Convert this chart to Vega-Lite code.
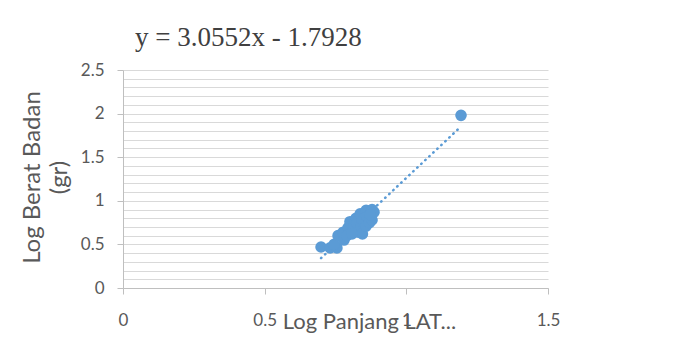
{
  "$schema": "https://vega.github.io/schema/vega-lite/v6.json",
  "autosize": "none",
  "width": 425,
  "height": 218,
  "padding": {"left": 123, "top": 70, "right": 131, "bottom": 55},
  "background": "white",
  "config": {"view": {"stroke": null}, "font": "Lato"},
  "title": {
    "text": "y = 3.0552x  - 1.7928",
    "anchor": "start",
    "frame": "group",
    "dx": 12,
    "dy": -1,
    "font": "Liberation Serif",
    "fontSize": 27,
    "fontWeight": "normal",
    "color": "#404040",
    "offset": 8
  },
  "datasets": {
    "pts": [
      {"x": 0.699, "y": 0.47},
      {"x": 0.731, "y": 0.46},
      {"x": 0.755, "y": 0.46},
      {"x": 0.745, "y": 0.5},
      {"x": 0.759, "y": 0.6},
      {"x": 0.777, "y": 0.64},
      {"x": 0.78, "y": 0.55},
      {"x": 0.794, "y": 0.69},
      {"x": 0.79, "y": 0.6},
      {"x": 0.801, "y": 0.76},
      {"x": 0.81, "y": 0.66},
      {"x": 0.815, "y": 0.71},
      {"x": 0.822, "y": 0.8},
      {"x": 0.825, "y": 0.74},
      {"x": 0.837, "y": 0.85},
      {"x": 0.84, "y": 0.7},
      {"x": 0.845, "y": 0.78},
      {"x": 0.858, "y": 0.89},
      {"x": 0.86, "y": 0.82},
      {"x": 0.879, "y": 0.9},
      {"x": 0.886, "y": 0.87},
      {"x": 0.83, "y": 0.64},
      {"x": 0.845, "y": 0.62},
      {"x": 0.858, "y": 0.71},
      {"x": 0.87, "y": 0.75},
      {"x": 0.879, "y": 0.78},
      {"x": 0.872, "y": 0.84},
      {"x": 0.808, "y": 0.62},
      {"x": 1.193, "y": 1.98}
    ],
    "trend": [
      {"x": 0.699, "y": 0.3428},
      {"x": 1.193, "y": 1.8521}
    ]
  },
  "encoding": {
    "x": {
      "field": "x", "type": "quantitative",
      "scale": {"domain": [0, 1.5], "nice": false, "zero": false},
      "axis": {
        "values": [0, 0.5, 1, 1.5],
        "format": ".1~f",
        "grid": false,
        "domainColor": "#bfbfbf",
        "tickColor": "#bfbfbf",
        "tickSize": 6,
        "labelFontSize": 17,
        "labelColor": "#595959",
        "labelPadding": 18,
        "labelFlush": false,
        "title": "Log Panjang LAT...",
        "titleFontSize": 22,
        "titleFontWeight": "normal",
        "titleColor": "#595959",
        "titleX": 246,
        "titleY": 40,
        "titleBaseline": "alphabetic"
      }
    },
    "y": {
      "field": "y", "type": "quantitative",
      "scale": {"domain": [0, 2.5], "nice": false, "zero": false},
      "axis": {
        "values": [0, 0.1, 0.2, 0.3, 0.4, 0.5, 0.6, 0.7, 0.8, 0.9, 1, 1.1, 1.2, 1.3, 1.4, 1.5, 1.6, 1.7, 1.8, 1.9, 2, 2.1, 2.2, 2.3, 2.4, 2.5],
        "format": ".1~f",
        "labelExpr": "abs(datum.value*2 - round(datum.value*2)) < 0.001 ? datum.label : ''",
        "tickOpacity": {"condition": {"test": "abs(datum.value*2 - round(datum.value*2)) < 0.001", "value": 1}, "value": 0},
        "grid": true,
        "gridColor": "#d9d9d9",
        "gridWidth": 1,
        "domainColor": "#bfbfbf",
        "tickColor": "#bfbfbf",
        "tickSize": 6,
        "labelFontSize": 17,
        "labelColor": "#595959",
        "labelPadding": 13,
        "labelFlush": false,
        "title": ["Log Berat Badan", "(gr)"],
        "titleFontSize": 24,
        "titleFontWeight": "normal",
        "titleColor": "#595959",
        "titleAngle": -90,
        "titleAlign": "center",
        "titleBaseline": "alphabetic",
        "titleLineHeight": 27,
        "titleX": -84,
        "titleY": 107
      }
    }
  },
  "layer": [
    {
      "data": {"name": "trend"},
      "mark": {"type": "line", "color": "#5b9bd5", "strokeWidth": 2.5, "strokeDash": [0.5, 5], "strokeCap": "round"}
    },
    {
      "data": {"name": "pts"},
      "mark": {"type": "circle", "color": "#5b9bd5", "opacity": 1, "size": 135}
    }
  ]
}
